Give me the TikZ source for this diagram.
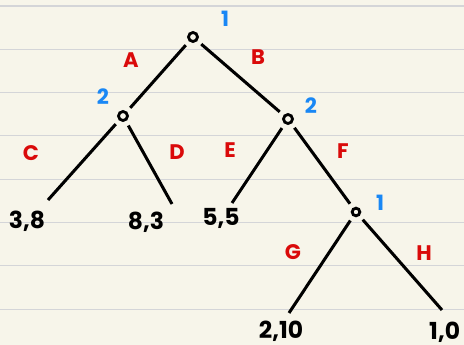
\documentclass[tikz,border=0pt]{standalone}
\usepackage{fontspec}
\setmainfont{Poppins}
\usetikzlibrary{positioning}
\definecolor{figPapel}{RGB}{247,245,234}
\definecolor{figRenglon}{RGB}{212,213,216}
\definecolor{figRojo}{RGB}{218,10,10}
\definecolor{figAzul}{RGB}{25,135,245}
\tikzset{
  nodo/.style={circle, draw=black, line width=2.4pt, fill=none, minimum size=0.27cm, inner sep=0pt},
  nodop/.style={nodo, minimum size=0.23cm},
  rama/.style={line width=2.6pt, draw=black, shorten <=0.15cm, shorten >=0.15cm},
  ramah/.style={line width=2.6pt, draw=black, shorten <=0.15cm},
  jugador/.style={text=figAzul, font=\bfseries\fontsize{18}{20}\selectfont, inner sep=0pt},
  accion/.style={text=figRojo, font=\bfseries\fontsize{18}{20}\selectfont, inner sep=0pt},
  pago/.style={text=black, font=\bfseries\fontsize{20}{22}\selectfont, inner sep=0pt}
}

\begin{document}
\begin{tikzpicture}[x=0.03cm, y=-0.03cm]
  % Papel rayado
  \useasboundingbox (0,0) rectangle (464,345);
  \fill[figPapel] (0,0) rectangle (464,345);
  \foreach \y in {6,49.3,92.6,135.9,179.2,222.5,265.8,309.1}
    \draw[figRenglon, line width=1pt] (0,\y) -- (464,\y);

  % Nodos de decision
  \node[nodo] (raiz) at (193,37) {};
  \node[nodo] (izq) at (123,116) {};
  \node[nodo] (der) at (288,119) {};
  \node[nodop] (sub) at (356,212) {};

  % Extremos de las ramas terminales
  \coordinate (fin38) at (48,200);
  \coordinate (fin83) at (172,204);
  \coordinate (fin55) at (232,203);
  \coordinate (fin210) at (289,313);
  \coordinate (fin10) at (442,310);

  \draw[rama] (raiz) -- (izq);
  \draw[rama] (raiz) -- (der);
  \draw[rama] (der) -- (sub);
  \draw[ramah] (izq) -- (fin38);
  \draw[ramah] (izq) -- (fin83);
  \draw[ramah] (der) -- (fin55);
  \draw[ramah] (sub) -- (fin210);
  \draw[ramah] (sub) -- (fin10);

  % Jugadores
  \node[jugador] (j1) at (225,19) {1};
  \node[jugador] (j2a) at (103,97) {2};
  \node[jugador] (j2b) at (311,106) {2};
  \node[jugador] (j1b) at (380,203) {1};

  % Acciones
  \node[accion] (acA) at (131,60) {A};
  \node[accion] (acB) at (258,57) {B};
  \node[accion] (acC) at (31,153) {C};
  \node[accion] (acD) at (177,152) {D};
  \node[accion] (acE) at (230,150) {E};
  \node[accion] (acF) at (343,151) {F};
  \node[accion] (acG) at (293,252) {G};
  \node[accion] (acH) at (424,253) {H};

  % Pagos
  \node[pago] (p38) at (27,221) {3,8};
  \node[pago] (p83) at (146,222) {8,3};
  \node[pago] (p55) at (221,218) {5,5};
  \node[pago] (p210) at (281,331) {2,10};
  \node[pago, anchor=west] (p10) at (429,332) {1,0};
\end{tikzpicture}
\end{document}
